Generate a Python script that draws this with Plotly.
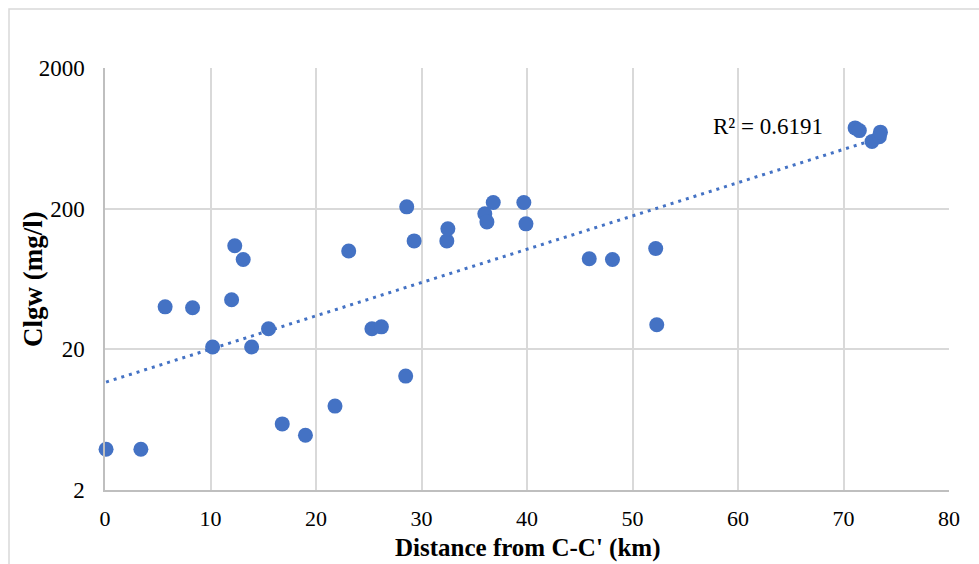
import numpy as np
import plotly.graph_objects as go

# Data
distance_km = [0.1, 3.4, 5.7, 8.3, 10.2, 12.0, 12.3, 13.1, 13.9, 15.5,
               16.8, 19.0, 21.8, 23.1, 25.3, 26.2, 28.5, 28.6, 29.3, 32.4,
               32.5, 36.0, 36.2, 36.8, 39.7, 39.9, 45.9, 48.1, 52.2, 52.3,
               71.1, 71.5, 72.7, 73.4, 73.5]
cl_gw = [3.9, 3.9, 40.1, 39.5, 20.8, 45, 109, 87, 20.8, 28,
         5.9, 4.9, 7.9, 100, 28, 28.9, 12.9, 206, 118, 118,
         144, 184, 161, 221, 221, 156, 88, 87, 104, 29.9,
         750, 718, 600, 650, 700]
r2_label = "R² = 0.6191"
x_title = "<b>Distance from C-C' (km)</b>"
y_title = "<b>Clgw (mg/l)</b>"
x_ticks = [0, 10, 20, 30, 40, 50, 60, 70, 80]
y_ticks = [2, 20, 200, 2000]

# Exponential trendline (least squares on log values)
xa = np.array(distance_km)
b, loga = np.polyfit(xa, np.log(np.array(cl_gw)), 1)
tx = np.linspace(xa.min(), xa.max(), 200)
ty = np.exp(loga + b * tx)

blue = "#4472C4"
font_serif = "Liberation Serif, Times New Roman, serif"

fig = go.Figure()
fig.add_trace(go.Scatter(x=tx, y=ty, mode="lines",
                         line=dict(color=blue, width=3, dash="3px,5px"),
                         hoverinfo="skip", showlegend=False))
fig.add_trace(go.Scatter(x=distance_km, y=cl_gw, mode="markers",
                         marker=dict(color=blue, size=15, line=dict(width=0)),
                         cliponaxis=False, showlegend=False))

fig.add_annotation(x=(711 - 105) / 844, y=(490 - 127) / 422, xref="paper", yref="paper",
                   text=r2_label, showarrow=False, xanchor="left", yanchor="middle",
                   font=dict(family=font_serif, size=23, color="#000"))
# axis titles
fig.add_annotation(x=0.5, y=(490 - 564) / 422, xref="paper", yref="paper",
                   text=x_title, showarrow=False, xanchor="center", yanchor="bottom",
                   font=dict(family=font_serif, size=25, color="#000"))
fig.add_annotation(x=(33 - 105) / 844, y=0.5, xref="paper", yref="paper",
                   text=y_title, showarrow=False, xanchor="center", yanchor="middle",
                   textangle=-90,
                   font=dict(family=font_serif, size=27, color="#000"))

# outer chart border
fig.add_shape(type="rect", xref="paper", yref="paper",
              x0=(9 - 105) / 844, x1=1.06, y0=-0.2, y1=(490 - 9) / 422,
              line=dict(color="#d9d9d9", width=1.5), layer="below")

fig.update_layout(
    width=979, height=564,
    margin=dict(l=105, r=30, t=68, b=74),
    paper_bgcolor="white", plot_bgcolor="white",
    font=dict(family=font_serif, color="#000"),
)
fig.update_xaxes(range=[0, 80], tickvals=x_ticks, ticks="",
                 showgrid=True, gridcolor="#d9d9d9", gridwidth=1.5,
                 showline=True, linecolor="#bfbfbf", linewidth=1.5,
                 zeroline=False, ticklabelstandoff=8, automargin=False,
                 tickfont=dict(family=font_serif, size=22, color="#000"))
fig.update_yaxes(type="log", range=[np.log10(2), np.log10(2000)],
                 tickvals=y_ticks, ticktext=[str(v) for v in y_ticks], ticks="",
                 showgrid=True, gridcolor="#d9d9d9", gridwidth=1.5,
                 showline=True, linecolor="#bfbfbf", linewidth=1.5,
                 zeroline=False, ticklabelstandoff=14, automargin=False,
                 tickfont=dict(family=font_serif, size=23, color="#000"))

fig.write_html("out.html")
